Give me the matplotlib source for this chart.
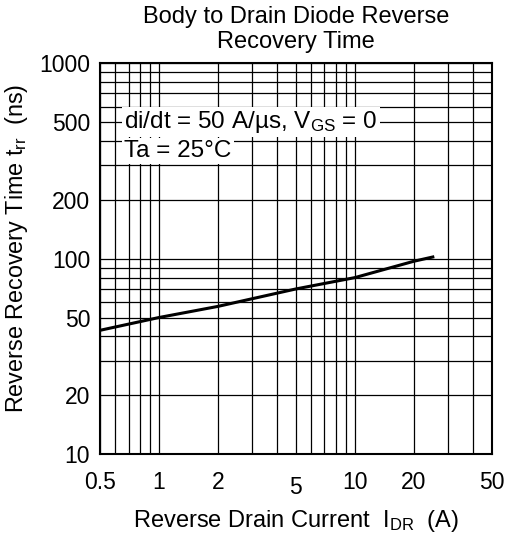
"""
Body to Drain Diode Reverse Recovery Time
"""

import matplotlib
matplotlib.use("Agg")
import matplotlib.pyplot as plt
from matplotlib.ticker import FixedLocator, LogLocator, NullFormatter

matplotlib.rcParams["font.family"] = ["Liberation Sans", "DejaVu Sans"]
matplotlib.rcParams["mathtext.fontset"] = "custom"
matplotlib.rcParams["mathtext.rm"] = "Liberation Sans"
matplotlib.rcParams["mathtext.it"] = "Liberation Sans:italic"

# 读取自图中的曲线
current = [0.5, 1, 2, 5, 10, 20, 25]
trr = [43, 50, 57, 70, 80, 97, 102]

x_ticks = [0.5, 1, 2, 5, 10, 20, 50]
x_labels = ["0.5", "1", "2", "5", "10", "20", "50"]
y_ticks = [10, 20, 50, 100, 200, 500, 1000]
y_labels = ["10", "20", "50", "100", "200", "500", "1000"]

fig = plt.figure(figsize=(5.07, 5.35), dpi=100)
ax = fig.add_axes([0.197, 0.151, 0.773, 0.731])

ax.set_xscale("log")
ax.set_yscale("log")
ax.set_xlim(0.5, 50)
ax.set_ylim(10, 1000)

ax.plot(current, trr, color="black", lw=2.2, zorder=3)

# 网格: 主/次刻度都画
ax.xaxis.set_major_locator(FixedLocator(x_ticks))
ax.yaxis.set_major_locator(FixedLocator(y_ticks))
ax.xaxis.set_minor_locator(LogLocator(base=10, subs=range(1, 10)))
ax.yaxis.set_minor_locator(LogLocator(base=10, subs=range(1, 10)))
ax.xaxis.set_minor_formatter(NullFormatter())
ax.yaxis.set_minor_formatter(NullFormatter())
ax.set_xticklabels(x_labels)
ax.set_yticklabels(y_labels)
ax.grid(True, which="both", color="black", lw=0.9)

ax.tick_params(which="both", length=0)
ax.tick_params(axis="x", labelsize=16.5, pad=12)
ax.tick_params(axis="y", labelsize=16.5, pad=7)
for lbl in ax.get_xticklabels():
    if lbl.get_text() == "5":
        lbl.set_y(-0.012)
for sp in ax.spines.values():
    sp.set_linewidth(1.5)

box = dict(facecolor="white", edgecolor="none", pad=1.5)
ax.text(0.665, 500, r"di/dt = 50 A/µs, V$\mathregular{_{GS}}$ = 0",
        fontsize=17.5, va="center", ha="left", bbox=box, zorder=4)
ax.text(0.665, 355, "Ta = 25°C", fontsize=17.5, va="center", ha="left",
        bbox=box, zorder=4)

ax.set_title("Body to Drain Diode Reverse\nRecovery Time", fontsize=17,
             pad=11, linespacing=1.15)
ax.set_xlabel(r"Reverse Drain Current  I$\mathregular{_{DR}}$  (A)",
              fontsize=17, labelpad=7)
ax.set_ylabel(r"Reverse Recovery Time t$\mathregular{_{rr}}$  (ns)",
              fontsize=16.8)
ax.yaxis.set_label_coords(-0.178, 0.527)

fig.savefig("out.png", dpi=100)
